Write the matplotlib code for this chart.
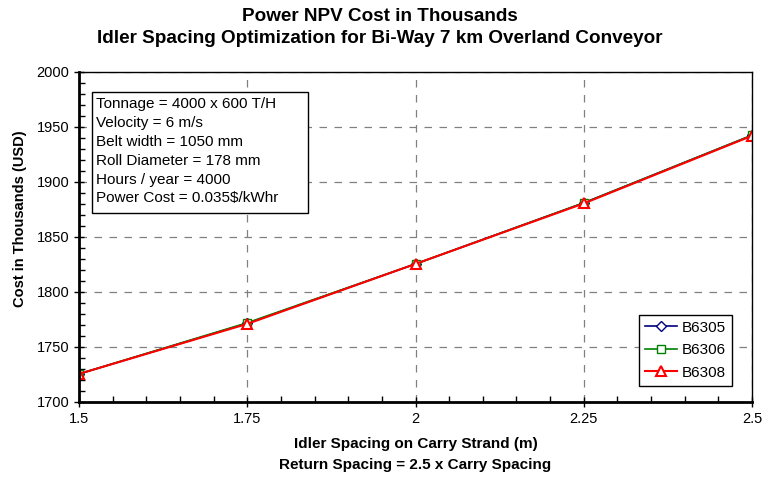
import matplotlib.pyplot as plt
from matplotlib.patches import Rectangle
from matplotlib.ticker import MultipleLocator

plt.rcParams['font.family'] = ['Liberation Sans', 'DejaVu Sans']

spacing = [1.5, 1.75, 2.0, 2.25, 2.5]
b6305 = [1725.5, 1771.5, 1825.5, 1881.0, 1942.5]
b6306 = [1725.5, 1772.0, 1825.5, 1881.0, 1942.5]
b6308 = [1725.5, 1771.0, 1825.5, 1880.5, 1942.0]

info = ("Tonnage = 4000 x 600 T/H\nVelocity = 6 m/s\nBelt width = 1050 mm\n"
        "Roll Diameter = 178 mm\nHours / year = 4000\nPower Cost = 0.035$/kWhr")

fig = plt.figure(figsize=(7.64, 4.79), dpi=100)
ax = fig.add_axes([0.1034, 0.1608, 0.8809, 0.6889])

ax.plot(spacing, b6305, color='#000080', marker='D', markersize=5,
        markerfacecolor='white', markeredgewidth=1, lw=1.2, label='B6305')
ax.plot(spacing, b6306, color='#008000', marker='s', markersize=6,
        markerfacecolor='white', markeredgewidth=1, lw=1.2, label='B6306')
ax.plot(spacing, b6308, color='#ff0000', marker='^', markersize=7,
        markerfacecolor='white', markeredgewidth=1.5, lw=1.5, label='B6308')

ax.set_xlim(1.5, 2.5)
ax.set_ylim(1700, 2000)
ax.xaxis.set_minor_locator(MultipleLocator(0.05))
ax.yaxis.set_major_locator(MultipleLocator(50))
ax.yaxis.set_minor_locator(MultipleLocator(10))
ax.set_xticks(spacing)
ax.set_xticklabels(['1.5', '1.75', '2', '2.25', '2.5'])
ax.tick_params(which='major', direction='inout', length=7, width=1, labelsize=10.5)
ax.tick_params(which='minor', direction='in', length=4, width=1)
ax.grid(True, which='major', color='#808080', linestyle=(0, (6, 6)), lw=0.9)
for s in ['left', 'bottom']:
    ax.spines[s].set_linewidth(2)
for s in ['top', 'right']:
    ax.spines[s].set_linewidth(1)

ax.set_xlabel("Idler Spacing on Carry Strand (m)\nReturn Spacing = 2.5 x Carry Spacing",
              fontsize=11, fontweight='bold', linespacing=1.65, labelpad=8)
ax.set_ylabel("Cost in Thousands (USD)", fontsize=10.5, fontweight='bold')
ax.yaxis.set_label_coords(-0.078, 0.555)
fig.suptitle("Power NPV Cost in Thousands\nIdler Spacing Optimization for Bi-Way 7 km Overland Conveyor",
             x=0.497, y=0.984, fontsize=13.6, fontweight='bold', linespacing=1.38)

# info box (fixed frame like the original)
ax.add_patch(Rectangle((0.0193, 0.573), 0.321, 0.366, transform=ax.transAxes,
                       facecolor='white', edgecolor='black', lw=1, zorder=4))
ax.text(0.025, 0.925, info, transform=ax.transAxes, fontsize=11, va='top', ha='left',
        linespacing=1.45, zorder=5)

leg = ax.legend(loc='lower right', bbox_to_anchor=(0.981, 0.026), fontsize=11,
                frameon=True, fancybox=False, edgecolor='black', framealpha=1,
                handlelength=2.1, borderpad=0.4, labelspacing=0.55, handletextpad=0.3)
leg.get_frame().set_linewidth(1)

fig.savefig('out.png', dpi=100)
